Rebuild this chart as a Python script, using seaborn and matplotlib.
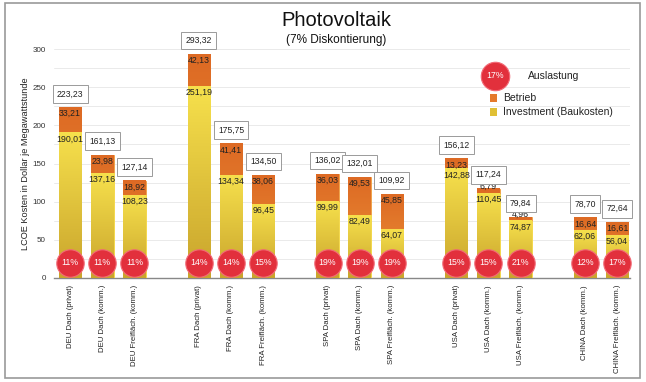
import numpy as np
import pandas as pd
import matplotlib; matplotlib.use('Agg')
import matplotlib.pyplot as plt
from matplotlib.colors import LinearSegmentedColormap
from matplotlib.patches import Rectangle
import seaborn as sns

# ---- data ----
labels = ['DEU Dach (privat)', 'DEU Dach (komm.)', 'DEU Freifläch. (komm.)',
          'FRA Dach (privat)', 'FRA Dach (komm.)', 'FRA Freifläch. (komm.)',
          'SPA Dach (privat)', 'SPA Dach (komm.)', 'SPA Freifläch. (komm.)',
          'USA Dach (privat)', 'USA Dach (komm.)', 'USA Freifläch. (komm.)',
          'CHINA Dach (komm.)', 'CHINA Freifläch. (komm.)']
investment = [190.01, 137.16, 108.23, 251.19, 134.34, 96.45, 99.99, 82.49, 64.07,
              142.88, 110.45, 74.87, 62.06, 56.04]
betrieb = [33.21, 23.98, 18.92, 42.13, 41.41, 38.06, 36.03, 49.53, 45.85,
           13.23, 6.79, 4.96, 16.64, 16.61]
total = [223.23, 161.13, 127.14, 293.32, 175.75, 134.50, 136.02, 132.01, 109.92,
         156.12, 117.24, 79.84, 78.70, 72.64]
auslastung = [11, 11, 11, 14, 14, 15, 19, 19, 19, 15, 15, 21, 12, 17]

# empty slots between the country groups
order = (labels[0:3] + [' '] + labels[3:6] + ['  '] + labels[6:9] + ['   ']
         + labels[9:12] + ['    '] + labels[12:14])

df = pd.DataFrame({'label': labels, 'investment': investment, 'betrieb': betrieb,
                   'total': total, 'auslastung': auslastung})

sns.set_style('white')
plt.rcParams['font.family'] = ['Liberation Sans', 'DejaVu Sans']

fig = plt.figure(figsize=(6.46, 3.82), dpi=100)
ax = fig.add_axes([54/646, 1 - 278/382, (630 - 54)/646, (278 - 49)/382])

W = 0.7
sns.barplot(data=df, x='label', y='total', order=order, color='#e57a2c', width=W,
            ax=ax, saturation=1, edgecolor='#f0a040', linewidth=0.6, zorder=2)
sns.barplot(data=df, x='label', y='investment', order=order, color='#eed040', width=W,
            ax=ax, saturation=1, edgecolor='#f5df50', linewidth=0.6, zorder=3)

# vertical gradients on the bars
cm_or = LinearSegmentedColormap.from_list('or', ['#ec9438', '#dd6a24'])
cm_ye = LinearSegmentedColormap.from_list('ye', ['#c9a42c', '#f6e04c'])
grad = np.linspace(0, 1, 64).reshape(-1, 1)
n = len(labels)
for i, p in enumerate(ax.patches):
    x0, y0 = p.get_x(), p.get_y()
    w, h = p.get_width(), p.get_height()
    cmap = cm_or if i < n else cm_ye
    ax.imshow(grad, extent=[x0, x0 + w, y0, y0 + h], origin='lower', aspect='auto',
              cmap=cmap, zorder=p.get_zorder() + 0.5)

fmt = lambda v: f'{v:.2f}'.replace('.', ',')
xpos = [order.index(l) for l in labels]

for x, inv, bet, tot, a in zip(xpos, investment, betrieb, total, auslastung):
    ty = tot - 8 if bet > 12 else tot + 3
    ax.text(x, ty, fmt(bet), ha='center', va='center', fontsize=6.3, color='#222', zorder=6)
    ax.text(x, inv - 8, fmt(inv), ha='center', va='center', fontsize=6.3, color='#222', zorder=6)
    ax.text(x, tot + 18, fmt(tot), ha='center', va='center', fontsize=6.2, color='#222',
            zorder=6, bbox=dict(boxstyle='square,pad=0.5', fc='white', ec='#9a9a9a', lw=0.7))
    ax.text(x, 20, f'{a}%', ha='center', va='center', fontsize=6.3, color='white', zorder=8)

# Auslastung circles
ax.scatter(xpos, [20] * n, s=390, color='#e2303c', edgecolor='#f26a76', linewidth=0.8,
           zorder=7, clip_on=False)

ax.set_xlim(-0.5, 17.4)
ax.set_ylim(0, 300)
ax.set_yticks(range(0, 301, 50))
ax.set_yticks(range(25, 300, 50), minor=True)
ax.grid(axis='y', which='both', color='#e6e6e6', lw=0.6, zorder=0)
ax.set_axisbelow(True)
for s in ['top', 'right', 'left']:
    ax.spines[s].set_visible(False)
ax.spines['bottom'].set_color('#888888')
ax.spines['bottom'].set_linewidth(1.0)
ax.tick_params(axis='y', length=0, labelsize=5.8, labelcolor='#333', pad=6)
ax.tick_params(axis='y', which='minor', length=0)
ax.tick_params(axis='x', length=0, labelsize=5.6, labelcolor='#222', pad=5)
ax.set_xticks(range(len(order)))
ax.set_xticklabels(order, rotation=90, va='top')
ax.set_xlabel('')
ax.set_ylabel('LCOE Kosten in Dollar je Megawattstunde', fontsize=6.6, color='#222', labelpad=1.5)

# title
fig.text(0.52, 1 - 20/382, 'Photovoltaik', ha='center', va='center', fontsize=14.5, color='#111')
fig.text(0.52, 1 - 40/382, '(7% Diskontierung)', ha='center', va='center', fontsize=8.5, color='#111')

# legend
ax.scatter([495/646], [1 - 76/382], s=420, color='#e2303c', edgecolor='#f26a76', linewidth=0.8,
           transform=fig.transFigure, clip_on=False, zorder=9)
fig.text(495/646, 1 - 76/382, '17%', ha='center', va='center', fontsize=6.3, color='white', zorder=10)
fig.text(528/646, 1 - 76/382, 'Auslastung', ha='left', va='center', fontsize=7.5, color='#222')
for yy, c, t in [(98, '#e57a2c', 'Betrieb'), (112, '#e0c035', 'Investment (Baukosten)')]:
    fig.patches.append(Rectangle((490/646, 1 - (yy + 3.5)/382), 7/646, 7/382, fc=c, ec='none',
                                 transform=fig.transFigure, figure=fig))
    fig.text(503/646, 1 - yy/382, t, ha='left', va='center', fontsize=7.5, color='#222')

# outer frame
fig.patches.append(Rectangle((5/646, 1 - 378/382), 635/646, 375/382, fill=False, ec='#999999',
                             lw=1.2, transform=fig.transFigure, figure=fig))

fig.savefig('out.png', dpi=100)
